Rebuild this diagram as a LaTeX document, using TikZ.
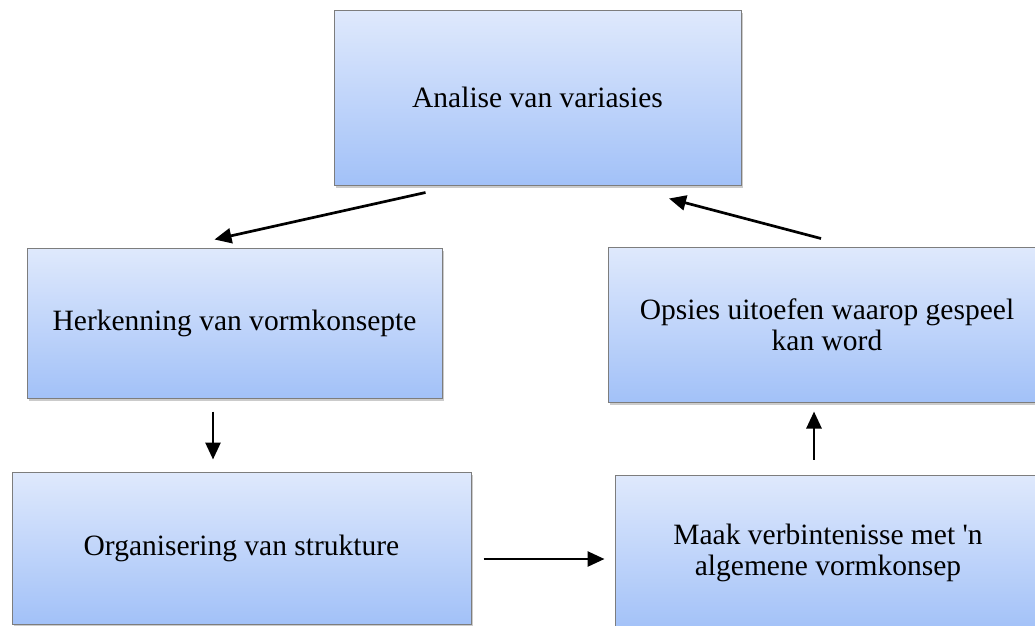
\documentclass[tikz,border=0pt]{standalone}
\usepackage{fontspec}
\setmainfont{Liberation Serif}
\usetikzlibrary{arrows.meta,shadows,calc}
\definecolor{boxtop}{RGB}{223,233,252}
\definecolor{boxbottom}{RGB}{162,193,248}
\definecolor{boxline}{RGB}{125,125,125}
\tikzset{
    stagebox/.style={
        rectangle,
        draw=boxline,
        line width=1pt,
        top color=boxtop,
        bottom color=boxbottom,
        drop shadow={shadow xshift=2pt, shadow yshift=-3pt, fill=black!40},
        align=center,
        font=\fontsize{29.5}{31}\selectfont,
        inner sep=0pt
    },
    flowarrow/.style={
        line width=2.7pt,
        black,
        -{Triangle[length=17pt,width=15pt]}
    }
}

\begin{document}
\begin{tikzpicture}[x=1pt, y=-1pt]
    \useasboundingbox[fill=white] (0,0) rectangle (1035,625);
    \clip (0,0) rectangle (1035,625);

    \coordinate (C1) at (537.5, 97.5);
    \coordinate (C2) at (234.5, 323);
    \coordinate (C3) at (827, 324.5);
    \coordinate (C4) at (241.5, 548);
    \coordinate (C5) at (828, 553);

    \node [stagebox, minimum width=407pt, minimum height=175pt] (analise) at (C1) {Analise van variasies};
    \node [stagebox, minimum width=415pt, minimum height=150pt] (herkenning) at (C2) {Herkenning van vormkonsepte};
    \node [stagebox, minimum width=438pt, minimum height=155pt] (opsies) at (C3) {Opsies uitoefen waarop gespeel\\kan word};
    \node [stagebox, minimum width=459pt, minimum height=152pt] (organisering) at (C4) {Organisering van strukture};
    \node [stagebox, minimum width=426pt, minimum height=156pt] (verbintenis) at (C5) {Maak verbintenisse met \textquotesingle n\\algemene vormkonsep};

    \draw [flowarrow] ([shift={(-112,7)}]analise.south) -- ([shift={(-20,-8)}]herkenning.north);
    \draw [flowarrow] ([shift={(-21.5,13)}]herkenning.south) -- ([shift={(-28.5,-12)}]organisering.north);
    \draw [flowarrow] ([shift={(12,11)}]organisering.east) -- ([shift={(-10,6)}]verbintenis.west);
    \draw [flowarrow] ([shift={(-14,-15)}]verbintenis.north) -- ([shift={(-13,9)}]opsies.south);
    \draw [flowarrow] ([shift={(-6,-8)}]opsies.north) -- ([shift={(131.5,13)}]analise.south);
\end{tikzpicture}
\end{document}
